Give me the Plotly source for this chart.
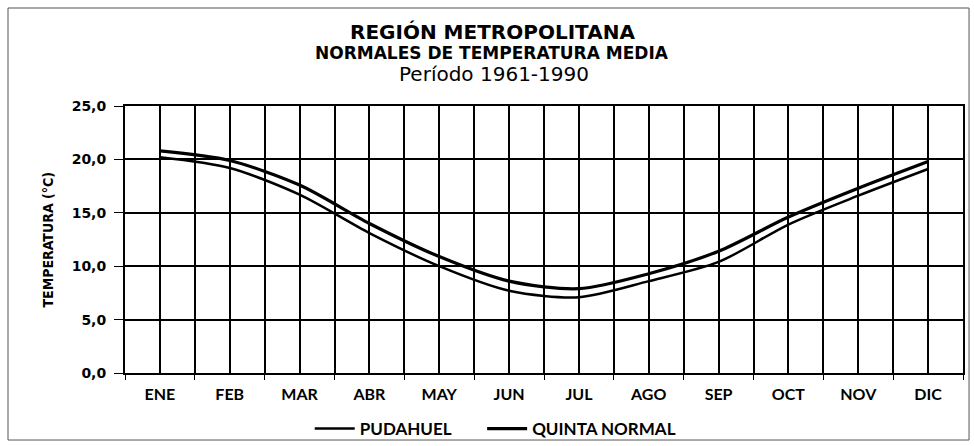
import plotly.graph_objects as go

meses = ['ENE', 'FEB', 'MAR', 'ABR', 'MAY', 'JUN', 'JUL', 'AGO', 'SEP', 'OCT', 'NOV', 'DIC']
pudahuel = [20.2, 19.2, 16.7, 13.1, 10.0, 7.7, 7.1, 8.6, 10.4, 13.9, 16.6, 19.1]
quinta_normal = [20.8, 19.9, 17.6, 14.0, 10.9, 8.6, 7.9, 9.3, 11.4, 14.6, 17.3, 19.8]
yticks = [0, 5, 10, 15, 20, 25]

# posiciones numericas para poder tener lineas de grilla en el centro y en los bordes de cada mes
xpos = [i + 0.5 for i in range(len(meses))]

fig = go.Figure()
fig.add_trace(go.Scatter(x=xpos, y=pudahuel, name='PUDAHUEL', mode='lines', legend='legend',
                         line=dict(color='black', width=2.5, shape='spline', smoothing=0.8)))
fig.add_trace(go.Scatter(x=xpos, y=quinta_normal, name='QUINTA NORMAL', mode='lines', legend='legend2',
                         line=dict(color='black', width=3.2, shape='spline', smoothing=0.8)))

legend_font = dict(family='Lato', size=17, color='black', weight='bold')

fig.update_layout(
    width=974, height=446,
    margin=dict(l=125, r=11, t=106, b=73, autoexpand=False),
    paper_bgcolor='white', plot_bgcolor='white',
    separators=',.',
    font=dict(family='Arial', color='black'),
    showlegend=True,
    # una leyenda por serie para dejar el mismo espacio que el original
    legend=dict(orientation='h', xref='container', yref='container',
                x=0.318, xanchor='left', y=0.038, yanchor='middle',
                font=legend_font, itemwidth=40, bgcolor='rgba(0,0,0,0)'),
    legend2=dict(orientation='h', xref='container', yref='container',
                 x=0.495, xanchor='left', y=0.038, yanchor='middle',
                 font=legend_font, itemwidth=40, bgcolor='rgba(0,0,0,0)'),
)

fig.update_xaxes(
    range=[0, 12], automargin=False,
    tickmode='array', tickvals=xpos, ticktext=meses,
    tickfont=dict(family='Lato', size=16, color='black', weight='bold'),
    ticklabelstandoff=6,
    showgrid=True, gridcolor='black', gridwidth=1.5,
    ticks='', showline=True, linecolor='black', linewidth=2, mirror=True,
    minor=dict(tick0=0, dtick=1, showgrid=True, gridcolor='black', gridwidth=1.5,
               ticks='outside', ticklen=5, tickcolor='black'),
    zeroline=False,
)
fig.update_yaxes(
    range=[0, 25], tickvals=yticks, tickformat='.1f', automargin=False,
    tickfont=dict(family='DejaVu Sans', size=14, color='black', weight='bold'),
    ticklabelstandoff=5,
    showgrid=True, gridcolor='black', gridwidth=1.5,
    ticks='outside', ticklen=9, tickcolor='black',
    showline=True, linecolor='black', linewidth=2, mirror=True,
    zeroline=False,
)

# titulo del eje y
fig.add_annotation(text='<b>TEMPERATURA (°C)</b>', xref='paper', yref='paper',
                   x=-0.093, y=0.5, xanchor='center', yanchor='middle',
                   textangle=-90, showarrow=False,
                   font=dict(family='DejaVu Sans Condensed', size=14))

# titulo en tres lineas
fig.add_annotation(text='<b>REGIÓN METROPOLITANA</b>', xref='paper', yref='paper',
                   x=0.438, y=1.279, xanchor='center', yanchor='middle', showarrow=False,
                   font=dict(size=20, family='DejaVu Sans'))
fig.add_annotation(text='<b>NORMALES DE TEMPERATURA MEDIA</b>', xref='paper', yref='paper',
                   x=0.438, y=1.2, xanchor='center', yanchor='middle', showarrow=False,
                   font=dict(size=17, family='DejaVu Sans'))
fig.add_annotation(text='Período 1961-1990', xref='paper', yref='paper',
                   x=0.44, y=1.12, xanchor='center', yanchor='middle', showarrow=False,
                   font=dict(size=20, family='DejaVu Sans'))

# marco exterior del grafico
fig.add_shape(type='rect', xref='paper', yref='paper', x0=-0.1396, x1=1.0072, y0=-0.251, y1=1.367,
              line=dict(color='#555', width=1))

# sin margen del body para que el grafico quede en la esquina de la ventana
fig.write_html('out.html', config={'displayModeBar': False},
               post_script="document.body.style.margin = '0';")
